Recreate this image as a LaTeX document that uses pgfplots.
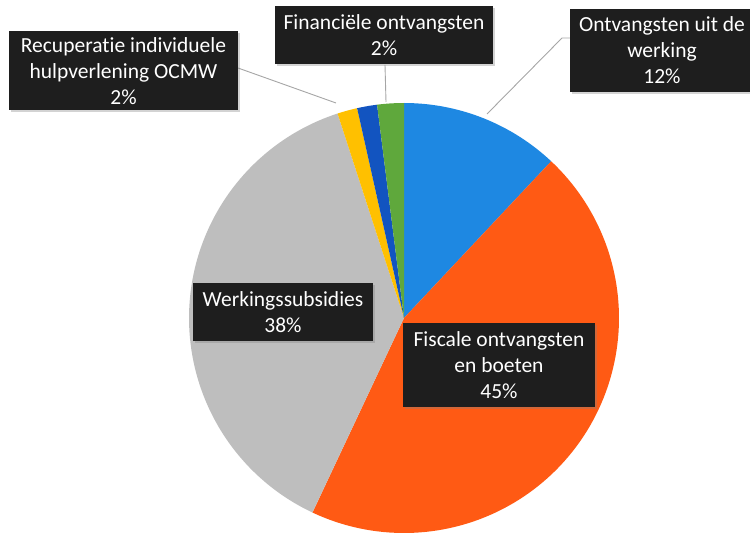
\documentclass[border=0pt]{standalone}
\usepackage{fontspec}
\setmainfont[Ligatures={NoCommon}]{Carlito}
\usepackage{pgfplots}
\pgfplotsset{compat=1.18}
\usetikzlibrary{shadows}
\definecolor{cBlue}{HTML}{1E88E2}
\definecolor{cOrange}{HTML}{FF5A14}
\definecolor{cGray}{HTML}{BEBEBE}
\definecolor{cYellow}{HTML}{FFC000}
\definecolor{cDark}{HTML}{1254C0}
\definecolor{cGreen}{HTML}{5FA83C}
\definecolor{cBox}{HTML}{1E1E1E}
% shares (percent), clockwise from 12 o'clock
\def\vBlue{12}
\def\vOrange{45}
\def\vGray{38}
\def\vYellow{1.5}
\def\vDark{1.5}
\def\vGreen{2}
\def\cx{404}
\def\cy{226}
\def\R{215}
\begin{document}
\begin{tikzpicture}
\pgfmathsetmacro{\aA}{90}
\pgfmathsetmacro{\aB}{\aA-3.6*\vBlue}
\pgfmathsetmacro{\aC}{\aB-3.6*\vOrange}
\pgfmathsetmacro{\aD}{\aC-3.6*\vGray}
\pgfmathsetmacro{\aE}{\aD-3.6*\vYellow}
\pgfmathsetmacro{\aF}{\aE-3.6*\vDark}
\pgfmathsetmacro{\aG}{\aF-3.6*\vGreen}
\begin{axis}[name=ax, scale only axis, width=750bp, height=544bp,
  xmin=0, xmax=750, ymin=0, ymax=544, hide axis, clip=false]
\addplot[draw=none, fill=cBlue, samples=40, domain=\aB:\aA] ({\cx+\R*cos(x)},{\cy+\R*sin(x)}) -- (axis cs:\cx,\cy) -- cycle;
\addplot[draw=none, fill=cOrange, samples=100, domain=\aC:\aB] ({\cx+\R*cos(x)},{\cy+\R*sin(x)}) -- (axis cs:\cx,\cy) -- cycle;
\addplot[draw=none, fill=cGray, samples=100, domain=\aD:\aC] ({\cx+\R*cos(x)},{\cy+\R*sin(x)}) -- (axis cs:\cx,\cy) -- cycle;
\addplot[draw=none, fill=cYellow, samples=10, domain=\aE:\aD] ({\cx+\R*cos(x)},{\cy+\R*sin(x)}) -- (axis cs:\cx,\cy) -- cycle;
\addplot[draw=none, fill=cDark, samples=10, domain=\aF:\aE] ({\cx+\R*cos(x)},{\cy+\R*sin(x)}) -- (axis cs:\cx,\cy) -- cycle;
\addplot[draw=none, fill=cGreen, samples=10, domain=\aG:\aF] ({\cx+\R*cos(x)},{\cy+\R*sin(x)}) -- (axis cs:\cx,\cy) -- cycle;
% leader lines
\draw[gray!70, line width=0.9bp] (axis cs:238,476) -- (axis cs:336,441);
\draw[gray!70, line width=0.9bp] (axis cs:385,479) -- (axis cs:386,442);
\draw[gray!70, line width=0.9bp] (axis cs:572,506) -- (axis cs:562,506) -- (axis cs:487,430);
% labels
\tikzset{lbl/.style={fill=cBox, text=white, align=center, inner sep=0pt,
  font=\fontsize{21.5bp}{26bp}\selectfont,
  drop shadow={shadow xshift=2bp, shadow yshift=-2bp, opacity=0.35}}}
\node[lbl, minimum width=229bp, minimum height=79bp] at (axis cs:123.5,473) {Recuperatie individuele\\hulpverlening OCMW\\2\%};
\node[lbl, minimum width=218bp, minimum height=58bp] at (axis cs:384,509) {Financiële ontvangsten\\2\%};
\node[lbl, minimum width=184bp, minimum height=83bp] at (axis cs:662,493.5) {Ontvangsten uit de\\werking\\12\%};
\node[lbl, minimum width=180bp, minimum height=58bp] at (axis cs:283,232) {Werkingssubsidies\\38\%};
\node[lbl, minimum width=192bp, minimum height=84bp] at (axis cs:499,179) {Fiscale ontvangsten\\en boeten\\45\%};
\end{axis}
\pgfresetboundingbox
\path[use as bounding box] (ax.south west) rectangle (ax.north east);
\end{tikzpicture}
\end{document}
